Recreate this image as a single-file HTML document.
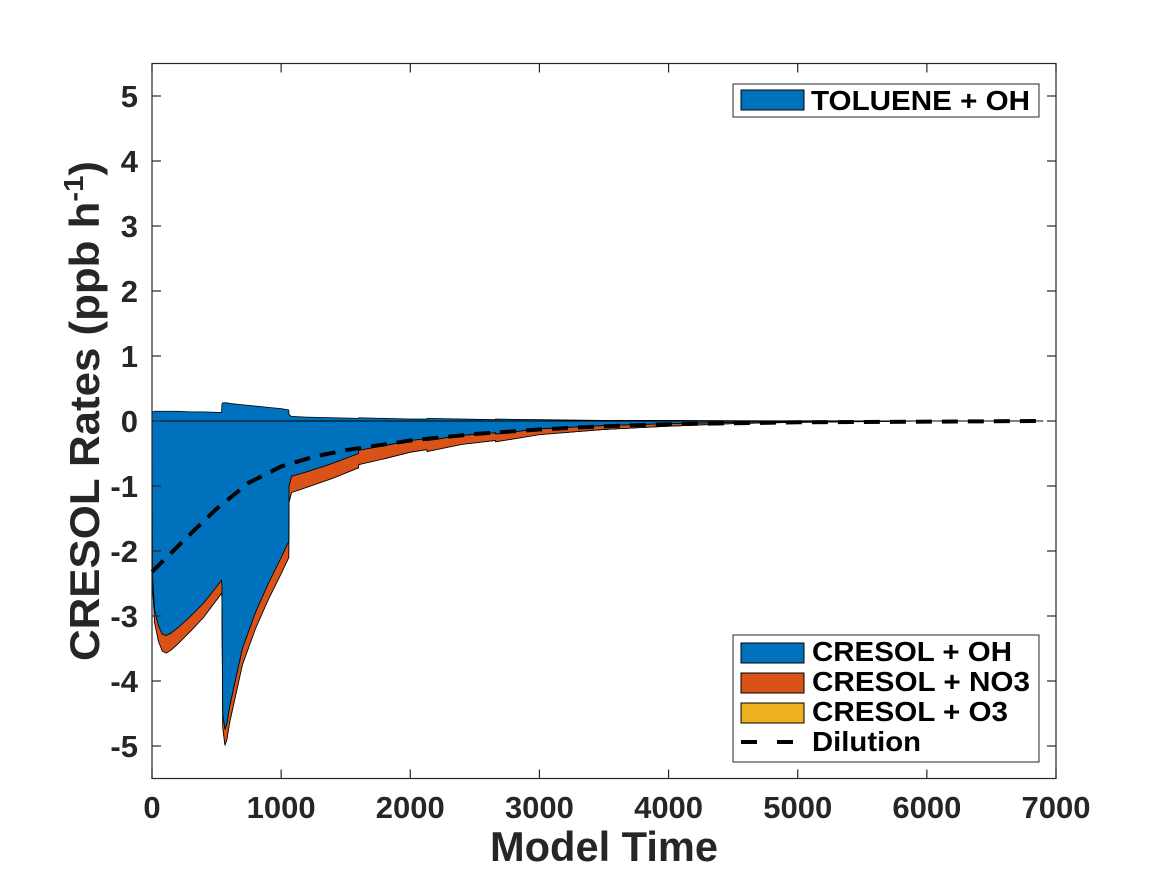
<!DOCTYPE html>
<html><head><meta charset="utf-8"><style>
html,body{margin:0;padding:0;background:#fff;}
svg{display:block;font-family:"Liberation Sans",Arial,sans-serif;font-weight:bold;}
</style></head><body>
<svg id="chart" width="1167" height="875" viewBox="0 0 1167 875" xmlns="http://www.w3.org/2000/svg">
<rect x="0" y="0" width="1167" height="875" fill="#fff"/>
<g id="marks"></g>
<g id="axes"></g>
</svg>
<script>
const timeVals = [0,5,20,50,80,110,150,200,300,400,539,541,548,565,580,600,700,800,900,1000,1059,1061,1080,1200,1400,1599,1601,1800,2000,2129,2131,2400,2659,2661,3000,3500,4000,4500,5000,6000,6900];
const tolueneOH = [0.1,0.14,0.15,0.15,0.15,0.15,0.15,0.15,0.14,0.14,0.13,0.26,0.28,0.28,0.28,0.27,0.25,0.23,0.21,0.19,0.17,0.1,0.07,0.06,0.05,0.04,0.05,0.04,0.03,0.03,0.04,0.03,0.02,0.03,0.02,0.01,0.01,0.005,0.003,0.001,0];
const cresolOH = [-0.4,-2.4,-2.9,-3.15,-3.28,-3.3,-3.26,-3.18,-3.0,-2.8,-2.45,-2.5,-4.5,-4.75,-4.65,-4.4,-3.5,-2.95,-2.5,-2.1,-1.85,-1.0,-0.85,-0.78,-0.65,-0.5,-0.45,-0.38,-0.3,-0.27,-0.3,-0.22,-0.18,-0.2,-0.12,-0.07,-0.04,-0.02,-0.01,0,0];
const cresolNO3 = [-0.05,-0.15,-0.2,-0.24,-0.26,-0.27,-0.26,-0.25,-0.23,-0.22,-0.2,-0.2,-0.22,-0.24,-0.25,-0.25,-0.25,-0.25,-0.25,-0.25,-0.25,-0.25,-0.25,-0.24,-0.23,-0.22,-0.22,-0.2,-0.18,-0.17,-0.17,-0.14,-0.12,-0.12,-0.09,-0.06,-0.04,-0.02,-0.01,0,0];
const cresolO3 = [0,0,0,0,0,0,0,0,0,0,0,0,0,0,0,0,0,0,0,0,0,0,0,0,0,0,0,0,0,0,0,0,0,0,0,0,0,0,0,0,0];
const dilTime = [0,250,500,750,1000,1250,1500,2000,2500,3000,3500,4000,5000,6000,6900];
const dilution = [-2.32,-1.83,-1.35,-0.95,-0.7,-0.55,-0.45,-0.3,-0.2,-0.13,-0.08,-0.05,-0.02,-0.01,0];
const xTicks = [0,1000,2000,3000,4000,5000,6000,7000];
const yTicks = [-5,-4,-3,-2,-1,0,1,2,3,4,5];

const L=152,R=1056,T=63.5,B=778.5;
const xMin=0,xMax=7000,yMin=-5.5,yMax=5.5;
const sx=v=>L+(v-xMin)/(xMax-xMin)*(R-L);
const sy=v=>B-(v-yMin)/(yMax-yMin)*(B-T);
const NS="http://www.w3.org/2000/svg";
const marks=document.getElementById('marks');
const axes=document.getElementById('axes');
function mk(tag,attrs,parent){const e=document.createElementNS(NS,tag);for(const k in attrs)e.setAttribute(k,attrs[k]);parent.appendChild(e);return e;}
function areaPath(xs,lo,hi){let d='';for(let i=0;i<xs.length;i++)d+=(i?'L':'M')+sx(xs[i]).toFixed(2)+','+sy(hi[i]).toFixed(2);for(let i=xs.length-1;i>=0;i--)d+='L'+sx(xs[i]).toFixed(2)+','+sy(lo[i]).toFixed(2);return d+'Z';}
const zeros=timeVals.map(()=>0);
const ohLow=cresolOH.map(v=>v);
const no3Low=cresolOH.map((v,i)=>v+cresolNO3[i]);
const o3Low=no3Low.map((v,i)=>v+cresolO3[i]);

let p=mk('path',{d:areaPath(timeVals,zeros,tolueneOH),fill:'#0072BD',stroke:'#000','stroke-width':'0.8'},marks);


p=mk('path',{d:areaPath(timeVals,o3Low,no3Low),fill:'#EDB120',stroke:'#000','stroke-width':'0.8'},marks);


p=mk('path',{d:areaPath(timeVals,no3Low,ohLow),fill:'#D95319',stroke:'#000','stroke-width':'0.8'},marks);


p=mk('path',{d:areaPath(timeVals,ohLow,zeros),fill:'#0072BD',stroke:'#000','stroke-width':'0.8'},marks);


let zl=mk('line',{x1:sx(0),x2:sx(6900),y1:sy(0),y2:sy(0),stroke:'#000','stroke-width':'1'},marks);


let dd='';dilTime.forEach((t,i)=>{dd+=(i?'L':'M')+sx(t).toFixed(2)+','+sy(dilution[i]).toFixed(2);});
p=mk('path',{d:dd,fill:'none',stroke:'#000','stroke-width':'4','stroke-dasharray':'16,10'},marks);



let box=mk('rect',{x:L,y:T,width:R-L,height:B-T,fill:'none',stroke:'#262626','stroke-width':'1.2'},axes);


xTicks.forEach(v=>{const x=sx(v);
 mk('line',{x1:x,x2:x,y1:B,y2:B-9,stroke:'#262626','stroke-width':'1.2'},axes);
 mk('line',{x1:x,x2:x,y1:T,y2:T+9,stroke:'#262626','stroke-width':'1.2'},axes);
 const t=mk('text',{x:x,y:818,'text-anchor':'middle','font-size':'31',fill:'#262626'},axes);t.textContent=v;
 
 
});
yTicks.forEach(v=>{const y=sy(v);
 mk('line',{x1:L,x2:L+9,y1:y,y2:y,stroke:'#262626','stroke-width':'1.2'},axes);
 mk('line',{x1:R,x2:R-9,y1:y,y2:y,stroke:'#262626','stroke-width':'1.2'},axes);
 const t=mk('text',{x:L-14,y:y+11,'text-anchor':'end','font-size':'31',fill:'#262626'},axes);t.textContent=v;
 
 
});
</script>
<svg style="position:absolute;left:0;top:0" width="1167" height="875" viewBox="0 0 1167 875" xmlns="http://www.w3.org/2000/svg">
<text x="490" y="861" textLength="228" lengthAdjust="spacingAndGlyphs" font-size="42" font-weight="bold" fill="#262626" font-family="Liberation Sans, sans-serif">Model Time</text>
<text transform="translate(99,661) rotate(-90)" textLength="500" lengthAdjust="spacingAndGlyphs" font-size="42" font-weight="bold" fill="#262626" font-family="Liberation Sans, sans-serif">CRESOL Rates (ppb h<tspan dy="-16" font-size="28">-1</tspan><tspan dy="16">)</tspan></text>
<g font-family="Liberation Sans, sans-serif" font-weight="bold" font-size="28">
<rect x="733" y="84" width="306" height="33" fill="#fff" stroke="#262626" stroke-width="1"/>
<rect x="741" y="90" width="63" height="20" fill="#0072BD" stroke="#000"/>
<text x="811" y="110" textLength="219" lengthAdjust="spacingAndGlyphs" fill="#000">TOLUENE + OH</text>
</g>
<g font-family="Liberation Sans, sans-serif" font-weight="bold" font-size="28">
<rect x="733" y="635" width="306" height="127" fill="#fff" stroke="#262626" stroke-width="1"/>
<rect x="741" y="643" width="63" height="20" fill="#0072BD" stroke="#000"/>
<text x="812" y="661" textLength="200" lengthAdjust="spacingAndGlyphs" fill="#000">CRESOL + OH</text>
<rect x="741" y="673" width="63" height="20" fill="#D95319" stroke="#000"/>
<text x="812" y="691" textLength="218" lengthAdjust="spacingAndGlyphs" fill="#000">CRESOL + NO3</text>
<rect x="741" y="703" width="63" height="20" fill="#EDB120" stroke="#000"/>
<text x="812" y="721" textLength="196" lengthAdjust="spacingAndGlyphs" fill="#000">CRESOL + O3</text>
<line x1="741" x2="804" y1="742" y2="742" stroke="#000" stroke-width="4" stroke-dasharray="16,20"/>
<text x="812" y="751" textLength="109" lengthAdjust="spacingAndGlyphs" fill="#000">Dilution</text>
</g>
</svg>
</body></html>
